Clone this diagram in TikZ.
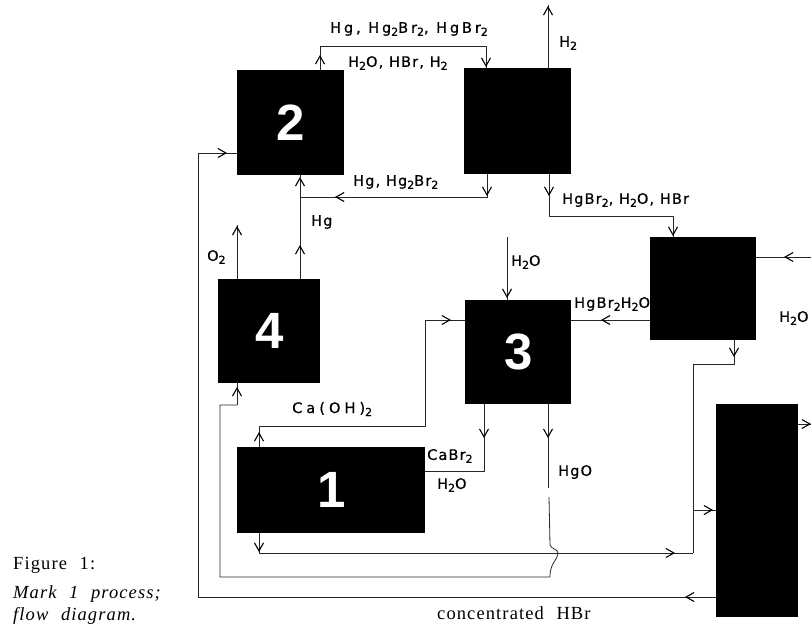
\documentclass[tikz,border=0pt]{standalone}
\usepackage{fontspec}
\usetikzlibrary{arrows.meta,decorations.markings,calc}
\setmainfont{Liberation Serif}
\newfontfamily\labelfont[LetterSpace=8,RawFeature={embolden=0.7}]{DejaVu Sans}
\newfontfamily\widefont[LetterSpace=20,RawFeature={embolden=0.7}]{DejaVu Sans}
\newfontfamily\widerfont[LetterSpace=28,RawFeature={embolden=0.7}]{DejaVu Sans}
\newfontfamily\numfont{Liberation Sans}
\newfontfamily\captfont[LetterSpace=6,WordSpace=2.2]{Liberation Serif}
\newcommand{\subn}[1]{\raisebox{-3pt}{\fontsize{11}{11}\selectfont #1}}
\tikzset{
  unitbox/.style={fill=black,draw=none,inner sep=0pt,anchor=north west,text=white,font=\numfont\bfseries\fontsize{51}{51}\selectfont},
  flow/.style={draw=black!85,line width=0.8pt,line join=round},
  arrowat/.style={postaction={decorate,decoration={markings,mark=at position #1pt with {\arrow[black,line width=1.1pt]{Straight Barb[length=8pt,width=9pt]}}}}},
  chem/.style={inner sep=0pt,anchor=west,font=\labelfont\fontsize{14.5}{15}\selectfont},
  chemwide/.style={chem,font=\widefont\fontsize{14.5}{15}\selectfont},
  chemwider/.style={chem,font=\widerfont\fontsize{14.5}{15}\selectfont},
  capt/.style={inner sep=0pt,anchor=base west,font=\captfont\fontsize{18.5}{20}\selectfont},
  capti/.style={inner sep=0pt,anchor=base west,font=\captfont\itshape\fontsize{18.5}{20}\selectfont},
}
\begin{document}
\begin{tikzpicture}[x=1pt,y=-1pt]
\useasboundingbox (0,0) rectangle (811,624);
% units
\node[unitbox,minimum width=107pt,minimum height=105pt] (b2) at (237,70) {2};
\node[unitbox,minimum width=107pt,minimum height=106pt] (br) at (464,68) {};
\node[unitbox,minimum width=102pt,minimum height=104pt] (b4) at (218,279) {4};
\node[unitbox,minimum width=106pt,minimum height=104pt] (b3) at (465,300) {3};
\node[unitbox,minimum width=106pt,minimum height=103pt] (bs) at (650,237) {};
\node[unitbox,minimum width=82pt,minimum height=213pt] (b5) at (716,404) {};
\node[unitbox,minimum width=188pt,minimum height=86pt] (b1) at (237,447) {1};
% free ends and junctions
\coordinate (a1) at (320,70);
\coordinate (a2) at (320,46);
\coordinate (a3) at (486,46);
\coordinate (a4) at (486,68);
\coordinate (h1) at (548,68);
\coordinate (h2) at (548,5);
\coordinate (c1) at (487,174);
\coordinate (c2) at (487,197);
\coordinate (c3) at (300,197);
\coordinate (c4) at (300,175);
\coordinate (d1) at (300,279);
\coordinate (o1) at (237,279);
\coordinate (o2) at (237,225);
\coordinate (e1) at (549,174);
\coordinate (e2) at (549,216);
\coordinate (e3) at (673,216);
\coordinate (e4) at (673,237);
\coordinate (w1) at (507,237);
\coordinate (w2) at (507,300);
\coordinate (f1) at (650,320);
\coordinate (f2) at (571,320);
\coordinate (g1) at (811,257);
\coordinate (g2) at (756,257);
\coordinate (i1) at (734,340);
\coordinate (i2) at (734,364);
\coordinate (i3) at (693,364);
\coordinate (i4) at (693,553);
\coordinate (j1) at (259,533);
\coordinate (j2) at (259,553);
\coordinate (k1) at (693,510);
\coordinate (k2) at (716,510);
\coordinate (l1) at (798,424);
\coordinate (l2) at (811,424);
\coordinate (m1) at (716,597);
\coordinate (m2) at (198,597);
\coordinate (m3) at (198,153);
\coordinate (m4) at (237,153);
\coordinate (n1) at (484,404);
\coordinate (n2) at (484,471);
\coordinate (n3) at (425,471);
\coordinate (p1) at (548,404);
\coordinate (p2) at (548,488);
\coordinate (p3) at (549,497);
\coordinate (p4) at (550,545);
\coordinate (p5) at (550,577);
\coordinate (p6) at (220,577);
\coordinate (p7) at (220,405);
\coordinate (p8) at (237,405);
\coordinate (p9) at (237,383);
\coordinate (q1) at (259,447);
\coordinate (q2) at (259,426);
\coordinate (q3) at (425,426);
\coordinate (q4) at (425,320);
\coordinate (q5) at (465,320);
% connectors
\draw[flow,arrowat=15,arrowat=211] (a1) -- (a2) -- (a3) -- (a4);
\draw[flow,arrowat=62] (h1) -- (h2);
\draw[flow,arrowat=22,arrowat=175,arrowat=230] (c1) -- (c2) -- (c3) -- (c4);
\draw[flow,arrowat=34] (d1) -- (c4);
\draw[flow,arrowat=53] (o1) -- (o2);
\draw[flow,arrowat=22,arrowat=186] (e1) -- (e2) -- (e3) -- (e4);
\draw[flow,arrowat=61] (w1) -- (w2);
\draw[flow,arrowat=49] (f1) -- (f2);
\draw[flow,arrowat=27] (g1) -- (g2);
\draw[flow,arrowat=17] (i1) -- (i2) -- (i3) -- (i4);
\draw[flow,arrowat=19,arrowat=436] (j1) -- (j2) -- (i4);
\draw[flow,arrowat=20] (k1) -- (k2);
\draw[flow,arrowat=13] (l1) -- (l2);
\draw[flow,arrowat=31,arrowat=991] (m1) -- (m2) -- (m3) -- (m4);
\draw[flow,arrowat=34] (n1) -- (n2) -- (n3);
\draw[flow,arrowat=34] (p1) -- (p2);
\draw[flow] (p3) -- (p4) .. controls (551,549) and (558,549) .. (558,553) .. controls (558,560) and (550,562) .. (p5) -- (p6) -- (p7) -- (p8);
\draw[flow,arrowat=18] (p8) -- (p9);
\draw[flow,arrowat=15,arrowat=319] (q1) -- (q2) -- (q3) -- (q4) -- (q5);
% labels
\node[chemwide] (t1) at (330,29) {Hg, Hg\subn{2}Br\subn{2}, HgBr\subn{2}};
\node[chem] (t2) at (348,63) {H\subn{2}O, HBr, H\subn{2}};
\node[chem] (t3) at (559,43) {H\subn{2}};
\node[chem] (t4) at (353,182) {Hg, Hg\subn{2}Br\subn{2}};
\node[chem] (t5) at (311,222) {Hg};
\node[chem] (t6) at (207,257) {O\subn{2}};
\node[chem] (t7) at (562,200) {HgBr\subn{2}, H\subn{2}O, HBr};
\node[chem] (t8) at (511,262) {H\subn{2}O};
\node[chem] (t9) at (574,304) {HgBr\subn{2}H\subn{2}O};
\node[chem] (t10) at (779,318) {H\subn{2}O};
\node[chemwider] (t11) at (292,409) {Ca(OH)\subn{2}};
\node[chem] (t12) at (427,456) {CaBr\subn{2}};
\node[chem] (t13) at (437,485) {H\subn{2}O};
\node[chem] (t14) at (558,472) {HgO};
\node[capt] (t15) at (437,619) {concentrated HBr};
\node[capt] (t16) at (13,569) {Figure 1:};
\node[capti] (t17) at (13,598) {Mark 1 process;};
\node[capti] (t18) at (13,620) {flow diagram.};
\end{tikzpicture}
\end{document}
